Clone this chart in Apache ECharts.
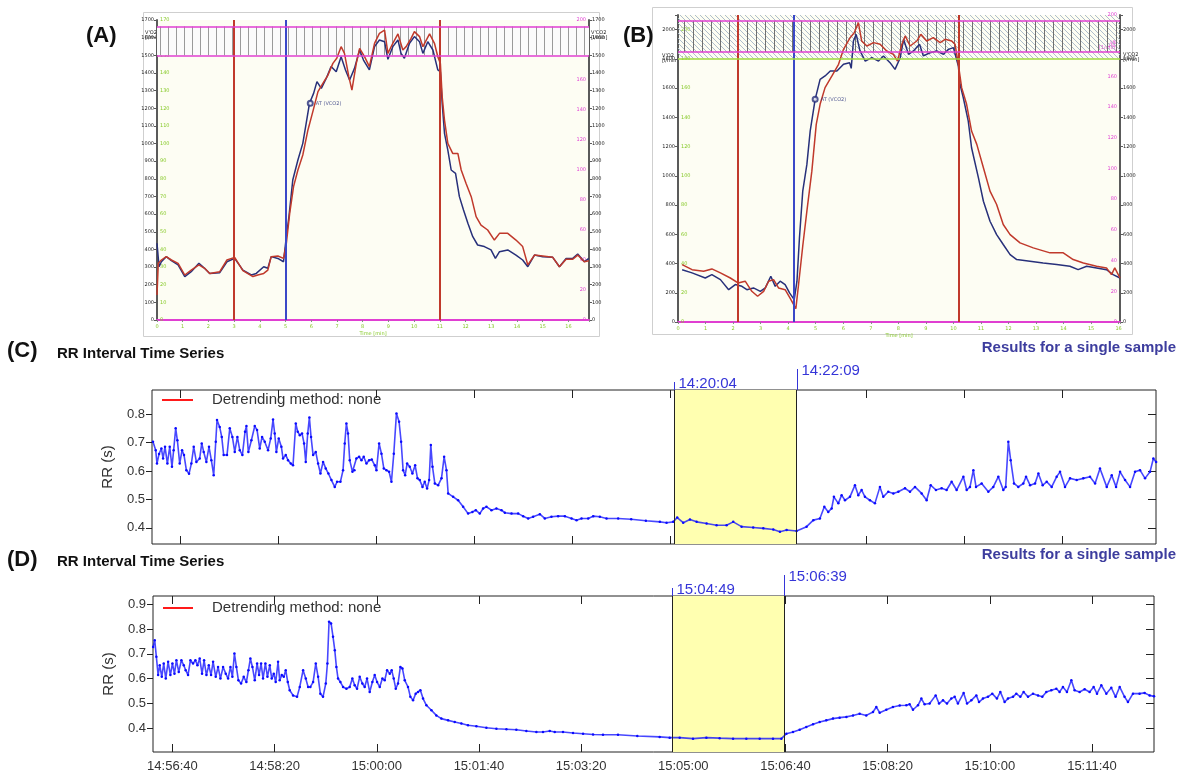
<!DOCTYPE html>
<html>
<head>
<meta charset="utf-8">
<title>VO2 / VCO2 and RR interval time series</title>
<script src="https://cdn.jsdelivr.net/npm/echarts@6/dist/echarts.min.js"></script>
<style>
  html, body { margin: 0; padding: 0; background: #fff; }
  #main { width: 1187px; height: 774px; }
</style>
</head>
<body>
<div id="main"></div>
<script>
// ---- (A) gas exchange, time in minutes, l/min x 1000 ----
var vo2A = [[0,435],[0.08,302],[0.17,330],[0.36,359],[0.56,336],[0.82,312],[1.08,246],[1.33,274],[1.63,321],[1.85,293],[2.05,264],[2.44,268],[2.72,330],[3.02,349],[3.34,283],[3.67,255],[3.86,264],[4.15,302],[4.31,293],[4.44,359],[4.70,349],[4.92,330],[5.03,472],[5.13,585],[5.28,793],[5.48,907],[5.67,1001],[5.78,1096],[5.93,1228],[6.09,1284],[6.22,1351],[6.39,1313],[6.58,1369],[6.77,1436],[6.97,1407],[7.16,1492],[7.33,1417],[7.49,1360],[7.68,1426],[7.88,1530],[8.03,1473],[8.26,1417],[8.46,1549],[8.65,1587],[8.85,1577],[8.98,1477],[9.17,1549],[9.37,1587],[9.49,1511],[9.62,1483],[9.82,1568],[10.01,1606],[10.21,1577],[10.34,1511],[10.53,1577],[10.73,1530],[10.92,1417],[11.02,1407],[11.09,1228],[11.18,1058],[11.31,963],[11.44,850],[11.61,831],[11.76,699],[11.92,623],[12.09,548],[12.28,472],[12.47,425],[12.73,416],[12.99,397],[13.16,349],[13.32,387],[13.64,397],[13.96,368],[14.22,340],[14.42,302],[14.68,368],[15.0,359],[15.39,355],[15.65,302],[15.91,349],[16.17,349],[16.36,374],[16.62,330],[16.79,349]];
var vco2A = [[0,142],[0.05,321],[0.17,340],[0.36,359],[0.56,340],[0.82,321],[1.08,255],[1.33,283],[1.63,312],[1.85,293],[2.05,264],[2.44,274],[2.72,340],[3.02,355],[3.34,280],[3.73,246],[3.92,255],[4.15,264],[4.31,283],[4.44,359],[4.70,363],[4.92,349],[5.03,434],[5.16,604],[5.31,756],[5.48,850],[5.67,935],[5.87,1077],[6.06,1181],[6.26,1294],[6.45,1341],[6.65,1388],[6.84,1454],[6.99,1483],[7.16,1549],[7.29,1511],[7.46,1379],[7.58,1303],[7.75,1454],[7.88,1539],[8.07,1492],[8.26,1436],[8.46,1568],[8.65,1624],[8.85,1643],[8.98,1511],[9.17,1568],[9.37,1621],[9.56,1530],[9.69,1549],[9.88,1596],[10.01,1634],[10.21,1606],[10.34,1549],[10.60,1621],[10.79,1568],[10.92,1492],[11.02,1454],[11.09,1266],[11.18,1133],[11.31,1001],[11.50,944],[11.70,944],[11.83,850],[12.02,774],[12.22,699],[12.41,586],[12.60,538],[12.86,510],[13.12,453],[13.32,491],[13.64,491],[13.96,453],[14.22,416],[14.42,312],[14.68,368],[15.0,363],[15.39,355],[15.65,302],[15.91,344],[16.17,344],[16.36,368],[16.62,330],[16.79,336]];
var marksA = [3, 5, 11];
var bandA = [1500, 1663];
var atA = [5.96, 1228];

// ---- (B) ----
var vo2B = [[0.15,358],[0.51,336],[0.99,301],[1.23,324],[1.54,290],[1.84,221],[2.08,256],[2.32,244],[2.50,221],[2.74,233],[2.99,210],[3.17,233],[3.37,313],[3.53,244],[3.71,279],[3.89,256],[4.05,199],[4.22,153],[4.32,279],[4.41,575],[4.53,895],[4.68,1078],[4.80,1306],[4.98,1523],[5.16,1660],[5.34,1683],[5.53,1717],[5.77,1717],[6.01,1763],[6.23,1774],[6.29,1735],[6.37,1922],[6.47,1968],[6.61,1854],[6.80,1785],[7.04,1808],[7.28,1785],[7.46,1820],[7.70,1774],[7.88,1728],[8.07,1808],[8.19,1934],[8.37,1831],[8.55,1854],[8.77,1900],[8.91,1820],[9.15,1842],[9.40,1854],[9.64,1831],[9.82,1865],[10.0,1877],[10.10,1808],[10.18,1751],[10.24,1626],[10.36,1534],[10.54,1374],[10.66,1192],[10.91,986],[11.09,826],[11.33,689],[11.57,598],[11.81,530],[12.06,461],[12.30,427],[12.78,416],[13.26,404],[13.75,393],[14.23,381],[14.53,358],[14.84,381],[15.20,370],[15.56,358],[15.80,324],[16.05,301]];
var vco2B = [[0.15,393],[0.51,358],[0.93,347],[1.23,363],[1.54,336],[1.90,301],[2.18,267],[2.44,279],[2.68,210],[2.89,176],[3.11,210],[3.29,279],[3.47,290],[3.65,233],[3.89,221],[4.07,164],[4.28,91],[4.38,260],[4.53,520],[4.68,758],[4.86,1032],[5.02,1352],[5.16,1489],[5.34,1603],[5.59,1683],[5.83,1763],[6.01,1865],[6.25,1945],[6.40,1979],[6.55,2048],[6.67,1922],[6.86,1888],[7.10,1911],[7.34,1900],[7.58,1854],[7.82,1831],[7.97,1785],[8.13,1900],[8.25,1957],[8.43,1888],[8.67,1922],[8.82,1968],[9.03,1922],[9.27,1945],[9.52,1911],[9.70,1934],[9.94,1922],[10.06,1900],[10.18,1763],[10.30,1603],[10.48,1489],[10.66,1306],[10.85,1215],[11.09,1055],[11.33,895],[11.57,804],[11.81,667],[12.06,598],[12.42,541],[12.90,507],[13.51,473],[13.99,473],[14.35,427],[14.72,404],[15.20,381],[15.56,370],[15.74,324],[15.86,370],[16.05,301]];
var marksB = [2.18, 4.2, 10.2];
var bandB = [1847, 2060];
var hatchB = [1800, 2100];
var atB = [4.98, 1523];

// ---- (C) RR series, seconds after 14:11:00 ----
var baseC = 14 * 3600 + 11 * 60;
var rrC = [[11.7,0.703],[14.5,0.673],[15.8,0.626],[17.9,0.66],[20.3,0.679],[22.0,0.644],[24.0,0.685],[26.4,0.626],[28.8,0.685],[31.1,0.615],[32.8,0.673],[34.9,0.75],[36.6,0.708],[39.0,0.626],[41.4,0.673],[43.4,0.656],[45.8,0.603],[48.5,0.59],[50.9,0.626],[53.3,0.685],[56.0,0.632],[59.4,0.644],[61.5,0.697],[63.5,0.667],[66.2,0.632],[68.9,0.685],[71.3,0.638],[73.7,0.585],[75.8,0.703],[77.1,0.779],[79.8,0.755],[81.9,0.72],[83.9,0.656],[87.3,0.656],[90.1,0.75],[92.8,0.72],[95.2,0.667],[97.9,0.72],[100.3,0.673],[103.0,0.656],[105.7,0.738],[107.1,0.758],[109.1,0.667],[112.2,0.708],[115.6,0.758],[118.0,0.744],[120.7,0.679],[123.1,0.72],[125.8,0.703],[129.2,0.673],[131.9,0.714],[134.3,0.781],[136.0,0.732],[137.7,0.667],[140.1,0.714],[142.8,0.685],[144.5,0.644],[147.3,0.656],[149.6,0.638],[152.4,0.626],[154.7,0.62],[157.5,0.767],[159.5,0.738],[161.6,0.726],[163.9,0.732],[166.0,0.697],[167.7,0.632],[169.7,0.732],[171.4,0.788],[173.1,0.72],[175.2,0.656],[177.9,0.667],[180.3,0.626],[182.7,0.591],[185.4,0.632],[188.1,0.609],[190.8,0.591],[193.9,0.568],[197.3,0.544],[199.7,0.562],[203.1,0.562],[205.8,0.603],[207.5,0.697],[209.2,0.767],[210.9,0.732],[212.6,0.638],[215.4,0.597],[217.4,0.603],[219.4,0.644],[222.2,0.65],[224.6,0.638],[226.9,0.65],[229.7,0.626],[232.4,0.638],[235.1,0.64],[238.2,0.62],[239.9,0.603],[242.6,0.697],[245.0,0.661],[247.4,0.609],[250.1,0.603],[252.8,0.597],[255.2,0.562],[257.6,0.661],[260.3,0.802],[263.0,0.773],[265.1,0.703],[267.1,0.603],[269.2,0.585],[271.2,0.626],[273.9,0.615],[276.6,0.591],[279.4,0.62],[281.8,0.574],[284.1,0.568],[286.9,0.544],[289.2,0.562],[291.6,0.538],[293.7,0.568],[295.4,0.691],[297.1,0.615],[299.5,0.556],[302.9,0.55],[306.3,0.574],[309.0,0.65],[311.4,0.603],[313.1,0.521],[318.2,0.509],[323.3,0.497],[328.4,0.474],[333.5,0.45],[337.9,0.456],[341.3,0.462],[345.4,0.45],[348.8,0.468],[352.2,0.474],[357.3,0.462],[362.4,0.468],[367.6,0.462],[371.0,0.453],[377.8,0.45],[384.6,0.45],[389.7,0.441],[394.8,0.433],[399.9,0.439],[406.7,0.448],[411.8,0.433],[418.6,0.439],[425.4,0.441],[432.3,0.441],[439.1,0.433],[444.2,0.427],[449.3,0.433],[456.1,0.433],[461.2,0.441],[468.0,0.439],[474.8,0.433],[486.7,0.433],[500,0.43],[515,0.425],[529.3,0.421],[536.1,0.418],[542.9,0.421],[547.0,0.436],[553.1,0.418],[560.0,0.429],[566.8,0.421],[577.0,0.415],[587.2,0.409],[597.4,0.409],[604.2,0.421],[612.7,0.404],[624.6,0.401],[634.9,0.398],[645.1,0.394],[651.9,0.386],[658.7,0.392],[668.9,0.389],[679.1,0.404],[686.0,0.427],[692.7,0.433],[697.2,0.474],[701.2,0.456],[704.7,0.468],[707.0,0.509],[711.5,0.486],[714.9,0.515],[718.3,0.497],[723.4,0.509],[728.5,0.55],[731.9,0.515],[735.3,0.533],[738.7,0.509],[743.8,0.497],[748.9,0.486],[754.0,0.544],[757.4,0.509],[762.5,0.527],[767.7,0.521],[772.8,0.527],[779.6,0.539],[784.7,0.527],[789.8,0.544],[796.6,0.521],[801.7,0.497],[805.8,0.55],[811.2,0.533],[817.0,0.539],[822.1,0.533],[827.2,0.562],[832.3,0.533],[839.2,0.58],[842.6,0.533],[846.0,0.544],[849.4,0.603],[852.1,0.544],[857.9,0.556],[864.7,0.527],[869.8,0.544],[874.9,0.58],[880.0,0.533],[882.4,0.544],[885.1,0.703],[887.5,0.638],[890.9,0.556],[895.3,0.544],[900.4,0.556],[903.2,0.58],[907.3,0.55],[912.4,0.556],[915.8,0.591],[920.2,0.55],[924.3,0.562],[929.4,0.544],[934.5,0.58],[937.9,0.597],[943.0,0.544],[948.1,0.574],[954.9,0.568],[961.7,0.574],[968.5,0.58],[973.7,0.556],[978.7,0.609],[985.6,0.544],[990.7,0.585],[995.1,0.544],[999.2,0.597],[1004.3,0.568],[1009.4,0.544],[1014.5,0.597],[1019.6,0.603],[1024.7,0.574],[1029.8,0.597],[1033.2,0.644],[1036.0,0.632]];
var windowC = [544, 669];           // 14:20:04 .. 14:22:09
var rangeC = [10.7, 1035.9];
var yRangeC = [0.343, 0.885];

// ---- (D) RR series, seconds after 14:56:00 ----
var baseD = 14 * 3600 + 56 * 60;
var rrD = [[21.1,0.728],[22.7,0.755],[24.3,0.688],[26.0,0.614],[27.6,0.654],[29.6,0.607],[31.5,0.661],[33.5,0.6],[35.8,0.668],[38.0,0.614],[40.0,0.661],[42.0,0.62],[43.9,0.674],[46.2,0.627],[48.8,0.674],[51.1,0.654],[53.0,0.634],[55.3,0.614],[57.6,0.674],[60.2,0.661],[62.5,0.674],[64.5,0.654],[66.7,0.681],[69.0,0.62],[71.0,0.674],[73.3,0.614],[75.6,0.654],[77.8,0.614],[79.8,0.668],[82.4,0.607],[84.7,0.647],[87.0,0.6],[89.6,0.647],[92.2,0.62],[94.5,0.6],[96.8,0.647],[98.7,0.607],[100.7,0.701],[102.6,0.647],[104.6,0.593],[107.2,0.58],[109.8,0.607],[112.4,0.586],[114.4,0.634],[116.3,0.681],[118.3,0.647],[120.6,0.593],[122.9,0.661],[124.8,0.614],[126.8,0.661],[128.7,0.6],[131.0,0.661],[133.0,0.607],[135.3,0.654],[137.2,0.6],[139.2,0.62],[141.1,0.586],[143.4,0.668],[145.0,0.593],[147.0,0.614],[149.0,0.607],[150.9,0.634],[152.9,0.586],[154.8,0.553],[158.1,0.532],[162.0,0.526],[164.6,0.566],[167.9,0.634],[170.5,0.6],[172.8,0.566],[175.0,0.566],[177.7,0.586],[180.3,0.661],[182.6,0.607],[184.8,0.539],[187.4,0.526],[190.1,0.58],[191.7,0.661],[193.3,0.83],[195.3,0.823],[197.2,0.769],[198.9,0.715],[200.5,0.647],[202.1,0.6],[204.4,0.586],[207.0,0.566],[210.3,0.559],[213.5,0.566],[216.1,0.6],[218.4,0.573],[220.7,0.559],[223.3,0.607],[225.9,0.58],[228.2,0.566],[230.5,0.6],[233.1,0.546],[235.7,0.586],[238.0,0.614],[240.3,0.586],[242.9,0.566],[245.5,0.6],[247.8,0.593],[250.1,0.634],[252.7,0.62],[254.6,0.634],[256.6,0.6],[258.6,0.559],[260.8,0.58],[263.1,0.647],[265.1,0.641],[267.4,0.593],[270.6,0.566],[272.9,0.526],[275.5,0.512],[278.1,0.539],[280.4,0.546],[282.7,0.553],[285.3,0.519],[288.6,0.492],[293.5,0.472],[298.3,0.451],[303.2,0.438],[309.8,0.431],[316.3,0.424],[322.8,0.418],[329.3,0.411],[337.5,0.407],[347.3,0.401],[357.1,0.397],[366.9,0.395],[376.6,0.393],[386.4,0.388],[396.2,0.384],[402.7,0.384],[409.3,0.388],[414.2,0.384],[422.3,0.384],[432.1,0.38],[441.9,0.377],[451.7,0.374],[461.4,0.373],[476.1,0.373],[495,0.368],[516.9,0.364],[526.7,0.361],[536.5,0.361],[549.5,0.357],[562.6,0.361],[575.6,0.359],[588.7,0.357],[601.7,0.357],[614.8,0.357],[627.8,0.357],[636.0,0.357],[640.9,0.377],[647.4,0.384],[653.9,0.393],[660.4,0.404],[667.0,0.415],[673.5,0.424],[680.0,0.431],[686.5,0.438],[693.0,0.442],[699.6,0.445],[706.1,0.451],[712.6,0.458],[719.1,0.451],[725.7,0.465],[728.9,0.485],[732.2,0.462],[738.7,0.474],[745.2,0.485],[751.8,0.491],[758.3,0.492],[761.5,0.496],[764.8,0.474],[769.7,0.492],[773.0,0.519],[776.2,0.496],[781.1,0.499],[787.0,0.532],[790.3,0.499],[794.2,0.512],[798.1,0.499],[802.3,0.519],[805.6,0.526],[808.8,0.499],[814.4,0.542],[817.7,0.499],[821.9,0.512],[826.8,0.532],[829.4,0.505],[833.3,0.519],[838.2,0.526],[842.4,0.539],[847.0,0.519],[850.3,0.546],[854.5,0.505],[857.8,0.519],[862.7,0.526],[865.9,0.539],[869.9,0.526],[873.1,0.546],[877.4,0.526],[882.3,0.539],[887.2,0.532],[891.4,0.526],[895.3,0.546],[900.2,0.553],[905.1,0.559],[908.3,0.546],[911.6,0.566],[915.5,0.546],[919.8,0.593],[923.0,0.553],[927.9,0.546],[932.8,0.557],[937.7,0.546],[941.6,0.566],[944.9,0.539],[949.1,0.573],[954.0,0.539],[958.9,0.563],[963.1,0.526],[967.1,0.566],[971.9,0.526],[975.2,0.505],[980.1,0.539],[986.6,0.539],[991.5,0.542],[996.4,0.532],[1000.7,0.528]];
var windowD = [529, 639];           // 15:04:49 .. 15:06:39
var rangeD = [21.0, 1000.7];
var yRangeD = [0.303, 0.934];

var timeTicks = [40, 140, 240, 340, 440, 540, 640, 740, 840, 940];
var rrTicksC = [0.4, 0.5, 0.6, 0.7, 0.8];
var rrTicksD = [0.4, 0.5, 0.6, 0.7, 0.8, 0.9];

// colours
var NAVY = '#27307a', BRICK = '#c0392b', MAGENTA = '#e03fd2', LIME = '#86c928';
var RR_BLUE = '#0a0aff', MARK_BLUE = '#3535d8';

function pad(n) { return (n < 10 ? '0' : '') + n; }
function clock(sec) {
  sec = Math.round(sec);
  return pad(Math.floor(sec / 3600)) + ':' + pad(Math.floor(sec % 3600 / 60)) + ':' + pad(sec % 60);
}

// hatch patterns for the header bands of A and B
function stripes(step, color, bg) {
  var c = document.createElement('canvas');
  c.width = step; c.height = 4;
  var g = c.getContext('2d');
  if (bg) { g.fillStyle = bg; g.fillRect(0, 0, step, 4); }
  g.fillStyle = color;
  g.fillRect(0, 0, 1, 4);
  return c;
}
function diagonal(step, color) {
  var c = document.createElement('canvas');
  c.width = step; c.height = step;
  var g = c.getContext('2d');
  g.strokeStyle = color; g.lineWidth = 1;
  g.beginPath();
  g.moveTo(0, 0); g.lineTo(step, step);
  g.moveTo(-1, step - 1); g.lineTo(1, step + 1);
  g.moveTo(step - 1, -1); g.lineTo(step + 1, 1);
  g.stroke();
  return c;
}

var chart = echarts.init(document.getElementById('main'));

var tiny = { fontSize: 5, fontFamily: 'DejaVu Sans' };

function gasX(grid, max) {
  return {
    type: 'value', gridIndex: grid, min: 0, max: max, interval: 1,
    axisLine: { onZero: false, lineStyle: { color: MAGENTA, width: 2 } },
    axisTick: { length: 2, lineStyle: { color: '#888' } },
    axisLabel: Object.assign({ color: LIME, margin: 4, formatter: function (v) { return Number.isInteger(v) ? v : ''; } }, tiny),
    splitLine: { show: false },
    name: 'Time [min]', nameLocation: 'middle', nameGap: 11,
    nameTextStyle: Object.assign({ color: LIME }, tiny)
  };
}
function gasY(grid, pos, max, step, color, inside, line) {
  return {
    type: 'value', gridIndex: grid, position: pos, min: 0, max: max, interval: step,
    axisLine: { show: line, lineStyle: { color: '#5a5a5a', width: 2 } },
    axisTick: { show: line, length: 3, lineStyle: { color: '#5a5a5a' } },
    axisLabel: Object.assign({ inside: inside, color: color, margin: 3,
      formatter: function (v) { return v % step === 0 ? v : ''; } }, tiny),
    splitLine: { show: false }
  };
}
function rrX(grid, pos, range, labels) {
  return {
    type: 'value', gridIndex: grid, position: pos, min: range[0], max: range[1],
    axisLine: { show: false },
    axisTick: { inside: true, length: 8, customValues: timeTicks, lineStyle: { color: '#222' } },
    axisLabel: labels ? {
      customValues: timeTicks, fontSize: 13, color: '#333', margin: 8,
      fontFamily: 'Liberation Sans', formatter: function (v) { return clock(baseD + v); }
    } : { show: false },
    splitLine: { show: false }
  };
}
function rrY(grid, pos, range, ticks, labels) {
  return {
    type: 'value', gridIndex: grid, position: pos, min: range[0], max: range[1],
    axisLine: { show: false },
    axisTick: { inside: !labels, length: labels ? 6 : 8, customValues: ticks, lineStyle: { color: '#222' } },
    axisLabel: labels ? {
      customValues: ticks, fontSize: 13, color: '#333', margin: 7,
      fontFamily: 'Liberation Sans', formatter: function (v) { return v.toFixed(1); }
    } : { show: false },
    splitLine: { show: false },
    name: labels ? 'RR (s)' : '', nameLocation: 'middle', nameGap: 37, nameRotate: 90,
    nameTextStyle: { fontSize: 15, color: '#333', fontFamily: 'Liberation Sans' }
  };
}

function gasLine(name, data, color, xi, yi, extra) {
  return Object.assign({
    name: name, type: 'line', xAxisIndex: xi, yAxisIndex: yi, data: data,
    showSymbol: false, lineStyle: { color: color, width: 1.5 }, itemStyle: { color: color }
  }, extra || {});
}
function vMarks(ts) {
  var cols = [BRICK, '#3a48c8', BRICK];
  return ts.map(function (t, i) {
    return { xAxis: t, lineStyle: { color: cols[i], width: 2, type: 'solid' } };
  });
}
function hLine(v, color) {
  return { yAxis: v, lineStyle: { color: color, width: 1.5, type: 'solid' } };
}
function atPoint(p, xi, yi) {
  return {
    type: 'scatter', xAxisIndex: xi, yAxisIndex: yi, data: [p],
    symbol: 'emptyCircle', symbolSize: 5, itemStyle: { color: NAVY },
    label: Object.assign({ show: true, position: 'right', distance: 2, color: NAVY,
      formatter: 'AT (VCO2)' }, tiny),
    z: 5
  };
}
function rrSeries(data, xi, yi, win) {
  return {
    name: 'RR', type: 'line', xAxisIndex: xi, yAxisIndex: yi, data: data,
    symbol: 'circle', symbolSize: 2.5, showAllSymbol: true,
    itemStyle: { color: RR_BLUE },
    lineStyle: { color: RR_BLUE, width: 1.6, opacity: 0.75 },
    markArea: { silent: true, itemStyle: { color: '#ffffb0' },
      data: [[{ xAxis: win[0] }, { xAxis: win[1] }]] },
    markLine: { silent: true, symbol: 'none', label: { show: false },
      lineStyle: { color: '#222', width: 1, type: 'solid' },
      data: [{ xAxis: win[0] }, { xAxis: win[1] }] },
    z: 3
  };
}

function txt(x, y, s, font, fill, align) {
  return { type: 'text', x: x, y: y, silent: true,
    style: { text: s, font: font, fill: fill, align: align || 'left', verticalAlign: 'middle' } };
}
function seg(x1, y1, x2, y2, color, w) {
  return { type: 'line', silent: true, shape: { x1: x1, y1: y1, x2: x2, y2: y2 },
    style: { stroke: color, lineWidth: w || 1 } };
}

var panelFont = 'bold 22px "Liberation Sans"';
var titleFont = 'bold 15px "Liberation Sans"';
var tinyFont = '5px "DejaVu Sans"';

var graphics = [
  { type: 'rect', silent: true, shape: { x: 143.5, y: 12.5, width: 456, height: 324 }, style: { fill: 'none', stroke: '#cfcfcf' } },
  { type: 'rect', silent: true, shape: { x: 652.5, y: 7.5, width: 480, height: 327 }, style: { fill: 'none', stroke: '#cfcfcf' } },
  txt(86, 36, '(A)', panelFont, '#111'),
  txt(623, 36, '(B)', panelFont, '#111'),
  txt(7, 351, '(C)', panelFont, '#111'),
  txt(7, 560, '(D)', panelFont, '#111'),
  txt(57, 354, 'RR Interval Time Series', titleFont, '#111'),
  txt(57, 562, 'RR Interval Time Series', titleFont, '#111'),
  txt(1176, 348, 'Results for a single sample', titleFont, '#3d3d9e', 'right'),
  txt(1176, 555, 'Results for a single sample', titleFont, '#3d3d9e', 'right'),
  seg(162, 400, 193, 400, '#ff1a1a', 2),
  txt(212, 400, 'Detrending method: none', '15px "Liberation Sans"', '#333'),
  seg(163, 608, 193, 608, '#ff1a1a', 2),
  txt(212, 608, 'Detrending method: none', '15px "Liberation Sans"', '#333'),
  txt(145, 35, "V'O2\n[l/min]", tinyFont, '#222'),
  txt(591, 35, "V'CO2\n[l/min]", tinyFont, '#222'),
  txt(586, 50, "HF\n[1/min]", tinyFont, MAGENTA, 'right'),
  txt(662, 58, "V'O2\n[l/min]", tinyFont, '#222'),
  txt(1123, 57, "V'CO2\n[l/min]", tinyFont, '#222'),
  txt(1117, 45, "HF\n[1/min]", tinyFont, MAGENTA, 'right')
];

var option = {
  animation: false,
  backgroundColor: '#ffffff',
  grid: [
    { left: 157, top: 20, width: 432, height: 300, show: true, backgroundColor: '#fdfdf3', borderWidth: 0 },
    { left: 678, top: 15, width: 442, height: 307, show: true, backgroundColor: '#fdfdf3', borderWidth: 0 },
    { left: 152, top: 390, width: 1004, height: 154, show: true, borderColor: '#222', borderWidth: 1 },
    { left: 153, top: 596, width: 1001, height: 156, show: true, borderColor: '#222', borderWidth: 1 }
  ],
  xAxis: [
    gasX(0, 16.8),
    gasX(1, 16.05),
    rrX(2, 'bottom', rangeC, false),
    rrX(3, 'bottom', rangeD, true),
    rrX(2, 'top', rangeC, false),
    rrX(3, 'top', rangeD, false)
  ],
  yAxis: [
    gasY(0, 'left', 1700, 100, '#222', false, true),
    gasY(0, 'left', 170, 10, LIME, true, false),
    gasY(0, 'right', 200, 20, MAGENTA, true, false),
    gasY(0, 'right', 1700, 100, '#222', false, true),
    gasY(1, 'left', 2100, 200, '#222', false, true),
    gasY(1, 'left', 210, 20, LIME, true, false),
    gasY(1, 'right', 200, 20, MAGENTA, true, false),
    gasY(1, 'right', 2100, 200, '#222', false, true),
    rrY(2, 'left', yRangeC, rrTicksC, true),
    rrY(3, 'left', yRangeD, rrTicksD, true),
    rrY(2, 'right', yRangeC, rrTicksC, false),
    rrY(3, 'right', yRangeD, rrTicksD, false)
  ],
  series: [
    gasLine("V'O2", vo2A, NAVY, 0, 0, {
      markArea: { silent: true, data: [[
        { yAxis: bandA[0], itemStyle: { color: { image: stripes(8, '#9a9a9a', '#fbfbfb'), repeat: 'repeat' } } },
        { yAxis: bandA[1] }]] },
      markLine: { silent: true, symbol: 'none', label: { show: false },
        data: vMarks(marksA).concat([hLine(bandA[0], MAGENTA), hLine(bandA[1], MAGENTA)]) }
    }),
    gasLine("V'CO2", vco2A, BRICK, 0, 0),
    atPoint(atA, 0, 0),
    gasLine("V'O2", vo2B, NAVY, 1, 4, {
      markArea: { silent: true, data: [
        [{ yAxis: hatchB[0], itemStyle: { color: { image: diagonal(5, '#aebdcc'), repeat: 'repeat' } } }, { yAxis: hatchB[1] }],
        [{ yAxis: bandB[0], itemStyle: { color: { image: stripes(9, '#6f6f6f'), repeat: 'repeat' } } }, { yAxis: bandB[1] }]
      ] },
      markLine: { silent: true, symbol: 'none', label: { show: false },
        data: vMarks(marksB).concat([hLine(bandB[0], MAGENTA), hLine(bandB[1], MAGENTA), hLine(hatchB[0], '#9ed83c')]) }
    }),
    gasLine("V'CO2", vco2B, BRICK, 1, 4),
    atPoint(atB, 1, 4),
    rrSeries(rrC, 2, 8, windowC),
    rrSeries(rrD, 3, 9, windowD)
  ],
  graphic: graphics
};

chart.setOption(option);

// blue time stamps above the analysed window, placed with the chart's own x scale
var stamps = [];
[[2, windowC, baseC, 390], [3, windowD, baseD, 596]].forEach(function (p) {
  p[1].forEach(function (t, i) {
    var px = Math.round(chart.convertToPixel({ xAxisIndex: p[0] }, t)) + 0.5;
    var top = p[3] - (i === 0 ? 8 : 21);
    stamps.push(seg(px, top, px, p[3], MARK_BLUE, 1));
    stamps.push(txt(px + 4, top + 2, clock(p[2] + t), '15px "Liberation Sans"', MARK_BLUE));
  });
});
chart.setOption({ graphic: graphics.concat(stamps) });
</script>
</body>
</html>
